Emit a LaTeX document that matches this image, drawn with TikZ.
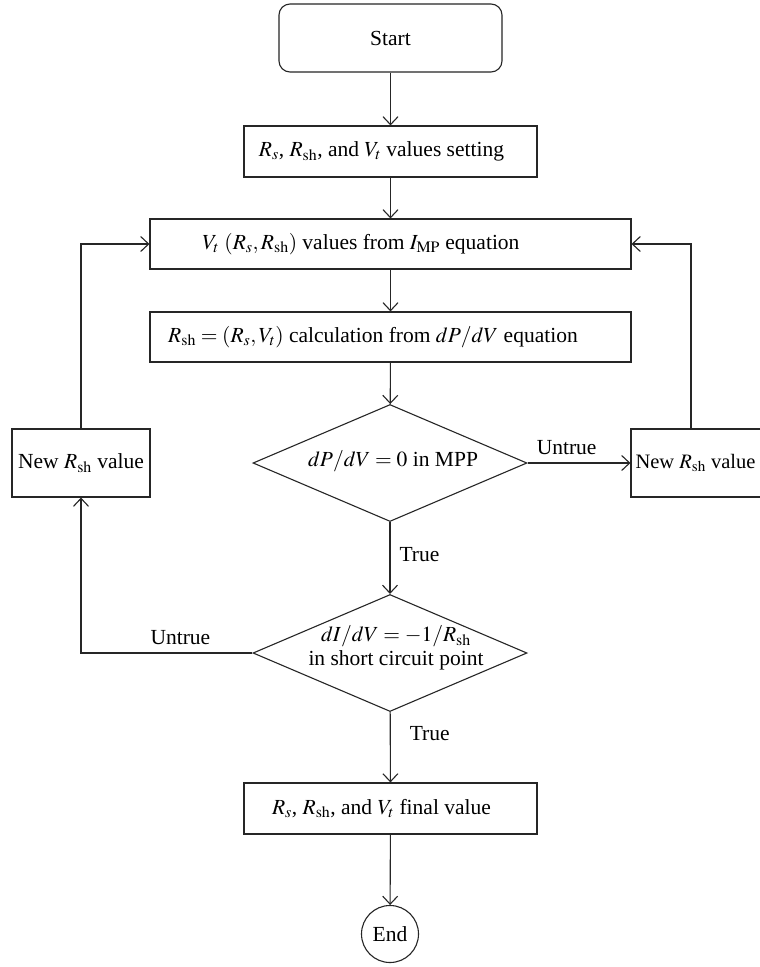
\documentclass[tikz,border=0pt]{standalone}
\usepackage{mathptmx}
\usepackage{fontspec}
\setmainfont{Liberation Serif}
\usetikzlibrary{shapes.geometric,arrows.meta}
\begin{document}
\begin{tikzpicture}[x=1pt,y=-1pt,
  every node/.style={font=\fontsize{21.5}{25}\selectfont},
  conn/.style={line width=1.1pt,draw=black!85},
  arr/.style={conn,-{Straight Barb[length=8pt,width=15pt,line width=1.1pt]}},
  boxnode/.style={draw=black!85,line width=1.1pt,rectangle,inner sep=0pt},
  dianode/.style={draw=black!85,line width=1.1pt,diamond,minimum width=274pt,minimum height=117pt,inner sep=0pt},
  lbl/.style={inner sep=0pt}
]
\useasboundingbox (0,0) rectangle (760,967);
\clip (0,0) rectangle (760,967);
\fill[white] (0,0) rectangle (760,967);
\node[boxnode,rounded corners=11pt,minimum width=223pt,minimum height=68pt] (start) at (390.5,38) {Start};
\node[boxnode,minimum width=293pt,minimum height=51pt] (set) at (390.5,151.5) {$R_s$, $R_{\mathrm{sh}}$, and $V_t$ values setting\hspace*{18pt}};
\node[boxnode,minimum width=481pt,minimum height=50pt] (vt) at (390.5,244) {$V_t$ $(R_s, R_{\mathrm{sh}})$ values from $I_{\mathrm{MP}}$ equation\hspace*{59pt}};
\node[boxnode,minimum width=481pt,minimum height=50pt] (rsh) at (390.5,337) {$R_{\mathrm{sh}} = (R_s, V_t)$ calculation from $dP/dV$ equation\hspace*{35pt}};
\node[dianode] (d1) at (390,463) {};
\node[lbl] (d1t) at (393,461) {$dP/dV = 0$ in MPP};
\node[boxnode,minimum width=138pt,minimum height=68pt] (lbox) at (81,463) {New $R_{\mathrm{sh}}$ value};
\node[boxnode,minimum width=138pt,minimum height=68pt,font=\fontsize{20.5}{24}\selectfont] (rbox) at (700,463) {New $R_{\mathrm{sh}}$ value\hspace*{9pt}};
\node[dianode] (d2) at (390,653) {};
\node[lbl,align=center] (d2t) at (396,648) {$dI/dV = -1/R_{\mathrm{sh}}$\\[-1pt]in short circuit point};
\node[boxnode,minimum width=293pt,minimum height=51pt] (fin) at (390.5,808.5) {$R_s$, $R_{\mathrm{sh}}$, and $V_t$ final value\hspace*{18pt}};
\node[draw=black!85,line width=1.1pt,circle,minimum size=57pt,inner sep=0pt] (end) at (390,934) {End};

\draw[arr] (start) -- (set);
\draw[arr] (set) -- (vt);
\draw[arr] (vt) -- (rsh);
\draw[arr] (rsh) -- (d1);
\draw[arr] (d1) -- node[lbl,right=9pt,pos=0.45] (t1) {True} (d2);
\draw[arr] (d2) -- node[lbl,right=19pt,pos=0.3] (t2) {True} (fin);
\draw[arr] (fin) -- (end);
\draw[arr] (d1.east) -- node[lbl,above=8pt,pos=0.38] (u1) {Untrue} (rbox.west);
\draw[arr] ([xshift=-9pt]rbox.north) |- (vt.east);
\draw[arr] (lbox.north) |- (vt.west);
\draw[arr] (d2.west) -| node[lbl,above=8pt,pos=0.21] (u2) {Untrue} (lbox.south);
\end{tikzpicture}
\end{document}
